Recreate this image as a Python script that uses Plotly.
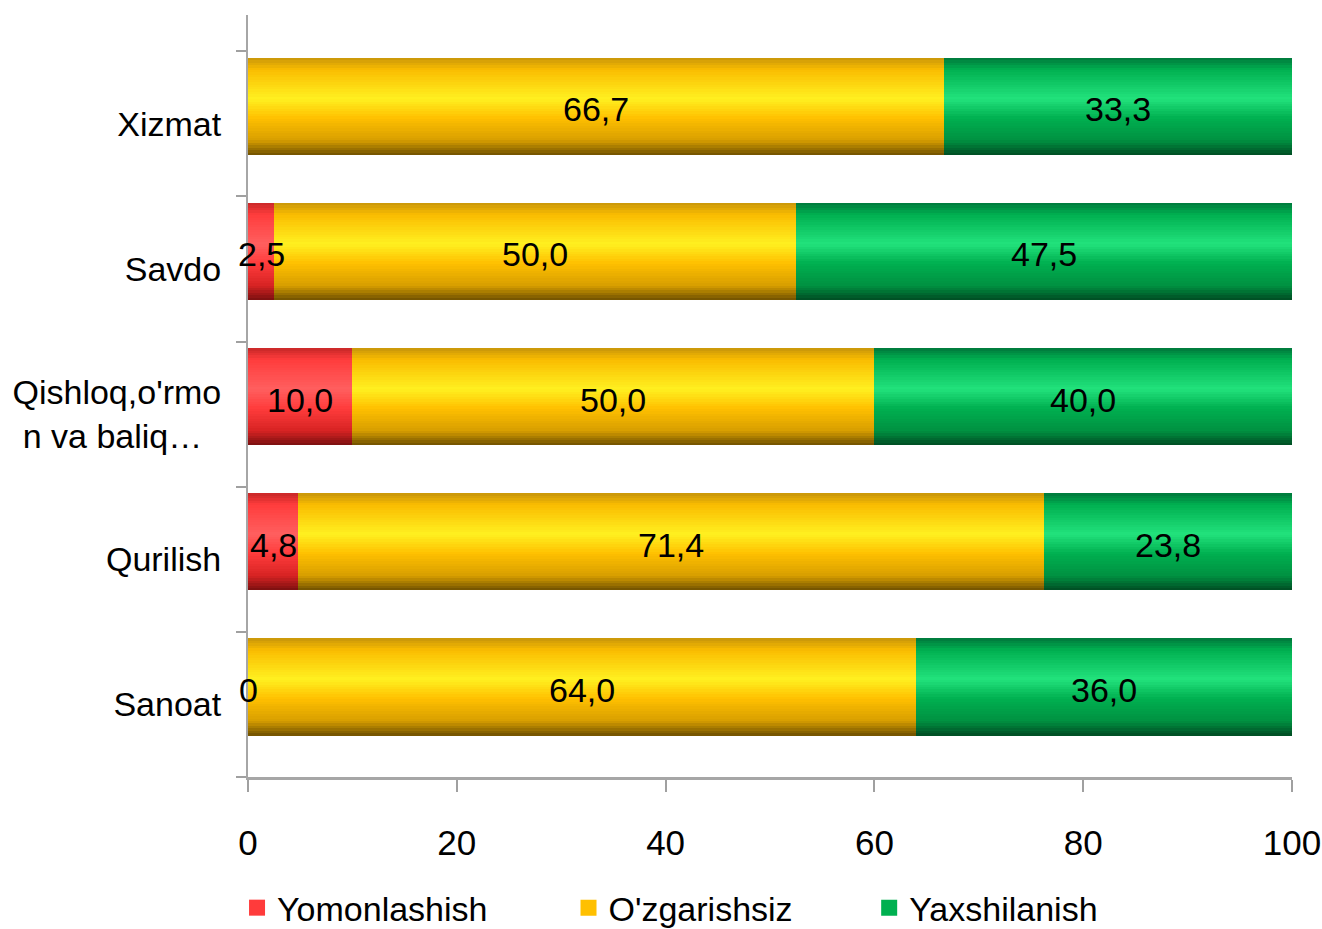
import plotly.graph_objects as go

# ---- data ----
categories = ["Sanoat", "Qurilish", "Qishloq,o'rmo<br>n va baliq…&nbsp;&nbsp;", "Savdo", "Xizmat"]
series_names = ["Yomonlashish", "O'zgarishsiz", "Yaxshilanish"]
yomonlashish = [0.0, 4.8, 10.0, 2.5, None]
ozgarishsiz = [64.0, 71.4, 50.0, 50.0, 66.7]
yaxshilanish = [36.0, 23.8, 40.0, 47.5, 33.3]
x_ticks = [0, 20, 40, 60, 80, 100]

FONT = "Liberation Sans, Arial, sans-serif"
FS = 34

# gradient stops: (fraction from top, colour)
grad = {
    "Yomonlashish": [(0.0, (200, 40, 40)), (0.12, (255, 60, 60)), (0.42, (255, 95, 95)),
                     (0.62, (255, 60, 60)), (0.85, (215, 35, 35)), (1.0, (120, 15, 15))],
    "O'zgarishsiz": [(0.0, (200, 150, 10)), (0.12, (250, 188, 0)), (0.42, (255, 240, 32)),
                     (0.62, (255, 192, 0)), (0.85, (215, 158, 0)), (1.0, (110, 80, 0))],
    "Yaxshilanish": [(0.0, (0, 120, 60)), (0.12, (0, 176, 80)), (0.42, (34, 226, 124)),
                     (0.62, (0, 176, 80)), (0.85, (0, 145, 65)), (1.0, (0, 75, 35))],
}
legend_colors = {"Yomonlashish": "#FF3B3B", "O'zgarishsiz": "#FFC000", "Yaxshilanish": "#00B050"}


def colour_at(stops, t):
    for (t0, c0), (t1, c1) in zip(stops[:-1], stops[1:]):
        if t0 <= t <= t1:
            f = 0 if t1 == t0 else (t - t0) / (t1 - t0)
            c = [round(a + (b - a) * f) for a, b in zip(c0, c1)]
            return "rgb(%d,%d,%d)" % tuple(c)
    return "rgb(%d,%d,%d)" % stops[-1][1]


values = [yomonlashish, ozgarishsiz, yaxshilanish]
bases = []
acc = [0.0] * len(categories)
for v in values:
    bases.append(list(acc))
    acc = [a + (b or 0.0) for a, b in zip(acc, v)]

BAR_W = 0.67
BAR_OFF = -0.215   # bar bottom relative to category centre
N = 40

fig = go.Figure()
for name, vals, base in zip(series_names, values, bases):
    stops = grad[name]
    sw = BAR_W / N
    for k in range(N):
        t_from_top = 1 - (k + 0.5) / N
        fig.add_trace(go.Bar(
            y=categories, x=vals, base=base, orientation="h",
            offset=BAR_OFF + k * sw, width=sw * 1.2 if k < N - 1 else sw,
            marker=dict(color=colour_at(stops, t_from_top), line=dict(width=0)),
            showlegend=False, hoverinfo="skip",
        ))

# legend entries
legend_ids = ["legend", "legend2", "legend3"]
for name, lid in zip(series_names, legend_ids):
    fig.add_trace(go.Scatter(
        x=[None], y=[None], mode="markers", name=name,
        marker=dict(symbol="square", size=18, color=legend_colors[name]),
        legend=lid, showlegend=True,
    ))


def fmt(v):
    return "0" if v == 0 else ("%.1f" % v).replace(".", ",")


for vals, base in zip(values, bases):
    for i, (v, b) in enumerate(zip(vals, base)):
        if v is None:
            continue
        fig.add_annotation(
            x=b + v / 2, y=i + 0.1, text=fmt(v), showarrow=False,
            font=dict(family=FONT, size=FS, color="black"),
            xanchor="center", yanchor="middle",
        )

leg_common = dict(orientation="h", yanchor="middle", y=-0.172, xanchor="left",
                  bgcolor="rgba(0,0,0,0)", borderwidth=0, itemsizing="trace",
                  font=dict(family=FONT, size=FS, color="black"))

fig.update_layout(
    width=1322, height=929,
    margin=dict(l=248, r=30, t=15, b=152, autoexpand=False),
    paper_bgcolor="white", plot_bgcolor="white",
    barmode="overlay", bargap=0,
    font=dict(family=FONT, size=FS, color="black"),
    legend=dict(x=-0.0105, **leg_common),
    legend2=dict(x=0.307, **leg_common),
    legend3=dict(x=0.595, **leg_common),
    xaxis=dict(range=[0, 100], tickvals=x_ticks, ticks="outside", ticklen=12,
               tickcolor="#A0A0A0", tickwidth=2, showline=True, linecolor="#A6A6A6",
               linewidth=3, showgrid=False, zeroline=False, ticklabelstandoff=21,
               automargin=False, ticklabeloverflow="allow",
               tickfont=dict(family=FONT, size=FS + 1, color="black")),
    yaxis=dict(type="category", categoryorder="array", categoryarray=categories,
               range=[-0.5, 4.75], ticks="outside", tickson="boundaries", ticklen=10,
               tickcolor="#A0A0A0", tickwidth=2, showline=True, linecolor="#A6A6A6",
               linewidth=2, showgrid=False, zeroline=False, ticklabelstandoff=18,
               automargin=False,
               tickfont=dict(family=FONT, size=FS, color="black")),
)

fig.write_html(
    "out.html",
    config={"displayModeBar": False},
    post_script="document.body.style.margin='0';document.body.style.overflow='hidden';",
)
